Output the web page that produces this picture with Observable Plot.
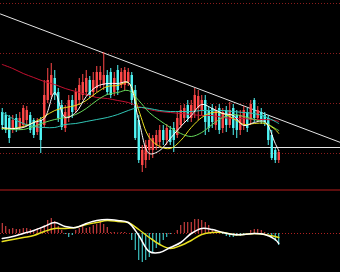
<!DOCTYPE html>
<html><head><meta charset="utf-8">
<script src="https://cdn.jsdelivr.net/npm/d3@7"></script>
<script src="https://cdn.jsdelivr.net/npm/@observablehq/plot@0.6"></script>
<style>html,body{margin:0;padding:0;background:#000;} #c svg{display:block;}</style>
</head><body><div id="c"></div>
<script>
// Candles (price units)
const openP = [9.1,8.8,8.5,7.3,8.5,7.5,7.8,8.3,8.8,8.3, 7.1,8.3,7.8,10.3,10.8,12.5,11.1,9.8,7.5,8.5, 10.3,9.3,10.3,10.8,11.1,12.3,11.1,11.5,12.3,11.8, 12.8,13.1,11.1,13.3,11.8,11.8,12.1,12.8,11.3,8.3, 3.8,4.3,5.3,5.3,5.8,6.1,7.3,6.3,7.3,7.5, 6.8,7.8,8.5,9.8,8.5,9.1,9.5,9.3,10.3,9.3, 9.5,7.8,9.5,7.5,9.3,7.8,9.5,8.8,7.3,7.8, 9.1,8.3,10.3,8.5,9.1,8.8,8.5,6.8,5.3,4.3];
const highP = [9.5,9.1,8.8,8.8,8.9,9.1,9.8,9.7,9.1,8.5, 8.5,8.6,12.3,13.5,14.0,13.3,11.5,10.3,9.8,10.8, 10.8,11.5,12.5,12.9,13.3,12.7,13.1,13.7,13.7,15.1, 13.3,13.5,13.1,13.8,13.5,13.6,13.5,13.1,11.8,8.8, 5.8,6.3,7.0,6.8,7.3,7.8,7.8,7.9,7.7,8.1, 9.1,9.8,9.9,10.3,10.3,11.5,11.3,10.8,10.8,9.7, 9.9,9.7,9.9,9.5,9.7,10.1,9.9,9.3,9.3,9.7, 9.5,10.3,10.5,9.7,9.5,9.1,8.8,7.3,5.5,5.3];
const lowP = [7.3,7.0,6.0,7.0,7.1,7.3,7.5,7.9,7.0,6.5, 6.8,5.0,7.5,10.0,10.5,10.3,8.1,7.3,7.1,8.1, 8.5,9.0,9.8,10.3,10.7,10.5,10.7,11.1,11.5,11.3, 10.8,10.5,10.7,10.8,11.5,11.3,11.7,9.8,6.3,4.0, 3.1,3.5,4.3,4.5,5.3,5.5,5.8,5.8,5.8,5.1, 6.5,7.5,8.1,8.1,8.1,8.5,8.3,8.8,6.8,7.1, 7.5,7.3,6.9,7.0,7.1,7.5,6.8,6.5,6.8,7.3, 7.1,7.8,8.1,8.1,7.9,7.7,5.8,4.3,4.0,4.0];
const closeP = [7.8,7.3,6.5,8.3,7.5,8.5,9.5,9.3,7.3,6.8, 8.1,6.3,10.8,12.3,12.8,10.8,8.5,7.6,9.1,10.3, 9.1,11.1,11.8,12.1,12.5,10.8,12.3,13.1,13.1,12.8, 11.1,10.8,12.5,11.3,13.1,13.3,13.1,10.3,6.5,4.3, 5.3,5.8,6.3,6.5,6.8,7.3,6.3,7.5,6.1,6.3, 8.5,9.3,9.5,8.5,9.8,10.8,10.7,10.3,8.1,7.5, 8.1,9.3,7.3,9.1,7.8,9.3,7.5,7.3,8.8,9.3, 7.5,9.9,8.5,9.3,8.3,8.1,6.3,4.5,4.3,5.1];

// Moving averages sampled at candle indices
const maIdx = [0,3,6,9,12,15,18,21,24,27,30,33,36,39,42,45,48,51,54,57,60,63,66,69,72,75,78,79];
const ma5 = [7.6,7.5,7.6,8.1,8.5,11.1,8.6,9.1,10.7,11.7,12.0,12.0,12.1,8.3,5.0,5.3,6.5,7.7,8.8,9.9,9.5,9.0,8.8,7.8,8.1,8.2,6.0,5.3];
const ma10 = [7.5,7.5,7.7,8.1,8.7,9.3,9.6,9.8,10.3,11.1,11.7,11.8,12.1,9.3,6.6,5.7,5.5,6.3,7.6,8.6,9.1,9.0,8.5,7.9,8.0,8.0,7.4,7.0];
const ma20 = [7.5,7.4,7.4,7.7,8.1,8.4,8.6,8.9,9.5,10.3,10.9,11.1,11.3,10.3,9.1,8.3,7.6,7.0,6.7,7.1,7.9,8.6,8.9,8.7,8.4,8.1,7.5,7.3];
const ma60 = [9.1,8.5,8.0,7.7,7.6,7.6,7.9,8.0,8.2,8.4,8.6,8.9,9.3,9.6,9.5,9.3,9.2,9.2,9.2,9.3,9.3,9.3,9.2,9.1,9.0,8.7,8.2,8.0];
const ma120 = [13.9,13.5,13.0,12.6,12.2,11.9,11.5,11.2,10.9,10.6,10.5,10.3,10.1,9.7,9.4,9.2,9.1,9.0,8.9,8.8,8.8,8.6,8.5,8.5,8.4,8.4,8.3,8.2];

// Reference lines
const gridP = [20.0, 15.0, 10.0, 5.0];
const supportP = 5.6;
const trendIdx = [-0.5, 96.64];
const trendP = [18.95, 6.1];

// MACD
const macdHist = [1.0,0.7,0.4,0.5,0.4,0.4,0.5,0.5,0.4,0.3, 0.5,0.6,0.8,1.3,1.5,1.2,0.7,0.3,-0.1,-0.4, -0.2,0.3,0.5,0.7,0.5,0.6,0.8,0.9,1.1,0.9, 0.6,0.1,0.1,0.05,0.1,0.1,0.0,-0.7,-1.7,-2.7, -2.9,-2.7,-2.4,-2.0,-1.5,-1.1,-0.7,-0.4,-0.1,0.0, 0.3,0.8,1.1,1.1,1.1,1.4,1.4,1.3,1.1,0.8, 0.4,0.2,0.0,-0.1,-0.3,-0.4,-0.4,-0.3,-0.3,-0.2, 0.0,0.3,0.4,0.4,0.3,0.1,-0.1,-0.5,-0.8,-1.2];
const dif = [-0.5,-0.3,0.0,0.3,0.7,1.1,0.7,0.6,1.0,1.3,1.4,1.3,1.1,-0.2,-1.8,-1.9,-1.4,-0.9,0.0,0.5,0.4,0.1,-0.1,-0.1,0.0,-0.1,-0.6,-1.0];
const dea = [-0.8,-0.6,-0.4,-0.2,0.2,0.5,0.5,0.6,0.9,1.1,1.3,1.2,1.1,0.4,-0.4,-1.1,-1.5,-1.2,-0.7,-0.1,0.1,0.1,-0.1,-0.1,0.0,-0.1,-0.3,-0.4];

const RED = "#ff4848", CYAN = "#50f6f6";
const candles = openP.map((o, i) => ({i, o, h: highP[i], l: lowP[i], c: closeP[i]}));
const up = candles.filter(d => d.c >= d.o);
const dn = candles.filter(d => d.c < d.o);
const maLine = (vals, color) => Plot.line(maIdx.map((x, k) => ({x, y: vals[k]})), {x: "x", y: "y", stroke: color, strokeWidth: 1, curve: "catmull-rom"});
const X = {domain: [-0.5, 96.64], axis: null};

const main = Plot.plot({
  width: 340, height: 189, margin: 0,
  x: X, y: {domain: [1.4, 20.3], axis: null},
  style: {background: "#000"},
  marks: [
    Plot.ruleY(gridP, {stroke: "#8a1c1c", strokeDasharray: "1,2"}),
    Plot.ruleY([supportP], {stroke: "#e6e6e6"}),
    Plot.line(trendIdx.map((x, k) => ({x, y: trendP[k]})), {x: "x", y: "y", stroke: "#e6e6e6", strokeWidth: 1}),
    Plot.ruleX(up, {x: "i", y1: "l", y2: "h", stroke: RED, strokeWidth: 1}),
    Plot.ruleX(dn, {x: "i", y1: "l", y2: "h", stroke: CYAN, strokeWidth: 1}),
    Plot.ruleX(up, {x: "i", y1: "o", y2: "c", stroke: RED, strokeWidth: 2.4}),
    Plot.ruleX(dn, {x: "i", y1: "o", y2: "c", stroke: CYAN, strokeWidth: 2.4}),
    maLine(ma120, "#c41030"),
    maLine(ma60, "#30c4b4"),
    maLine(ma20, "#66d85a"),
    maLine(ma10, "#e8e020"),
    maLine(ma5, "#ffffff")
  ]
});

const hist = macdHist.map((v, i) => ({i, v}));
const macd = Plot.plot({
  width: 340, height: 83, margin: 0,
  x: X, y: {domain: [-3.9, 4.4], axis: null},
  style: {background: "#000"},
  marks: [
    Plot.ruleY([4.35], {stroke: "#b81c1c", strokeWidth: 1}),
    Plot.ruleY([0], {stroke: "#b02020", strokeDasharray: "1,2"}),
    Plot.ruleX(hist.filter(d => d.v > 0), {x: "i", y1: 0, y2: "v", stroke: "#f04a4a", strokeWidth: 1}),
    Plot.ruleX(hist.filter(d => d.v < 0), {x: "i", y1: 0, y2: "v", stroke: "#48e8e8", strokeWidth: 1}),
    Plot.line(maIdx.map((x, k) => ({x, y: dea[k]})), {x: "x", y: "y", stroke: "#e8e020", curve: "catmull-rom"}),
    Plot.line(maIdx.map((x, k) => ({x, y: dif[k]})), {x: "x", y: "y", stroke: "#ffffff", curve: "catmull-rom"})
  ]
});
document.getElementById("c").append(main, macd);
</script></body></html>
